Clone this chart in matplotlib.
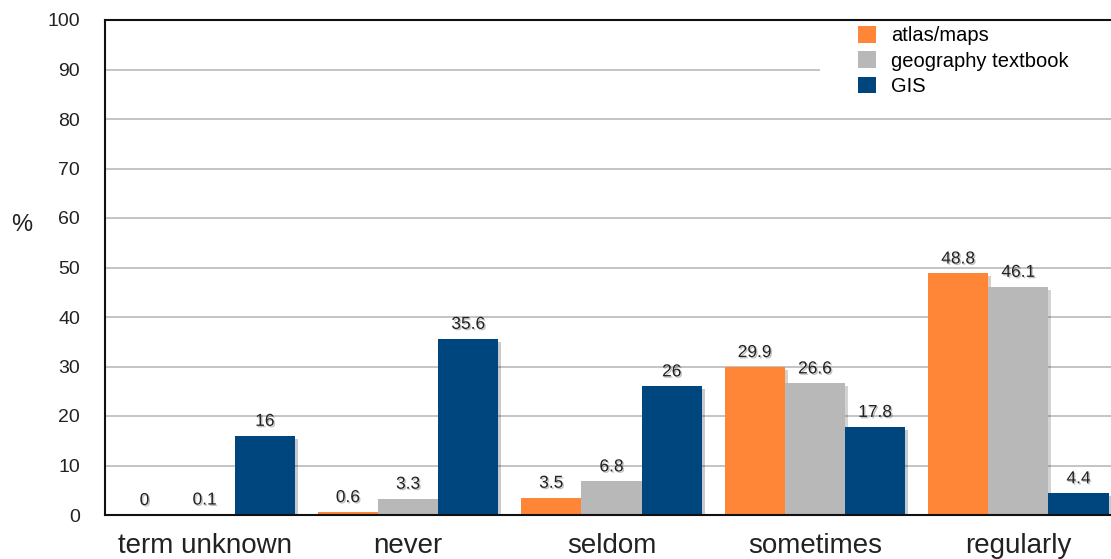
import matplotlib.pyplot as plt
import matplotlib.patheffects as pe
from matplotlib.patches import Patch, Rectangle
import numpy as np

plt.rcParams['font.family'] = ['Liberation Sans', 'DejaVu Sans']

categories = ['term unknown', 'never', 'seldom', 'sometimes', 'regularly']
atlas = [0, 0.6, 3.5, 29.9, 48.8]
textbook = [0.1, 3.3, 6.8, 26.6, 46.1]
gis = [16, 35.6, 26, 17.8, 4.4]
value_labels = [
    ['0', '0.6', '3.5', '29.9', '48.8'],
    ['0.1', '3.3', '6.8', '26.6', '46.1'],
    ['16', '35.6', '26', '17.8', '4.4'],
]
series_names = ['atlas/maps', 'geography textbook', 'GIS']
colors = ['#FF8636', '#B8B8B8', '#00467E']

fig = plt.figure(figsize=(11.11, 5.59), dpi=100)
ax = fig.add_axes([105 / 1111, 44 / 559, 1013 / 1111, 495 / 559])

x = np.arange(len(categories))
w = 0.296
shadow = [pe.SimplePatchShadow(offset=(2, -2), alpha=0.22), pe.Normal()]
txt_shadow = [pe.SimplePatchShadow(offset=(1, -1), alpha=0.25), pe.Normal()]

for i, (vals, c) in enumerate(zip([atlas, textbook, gis], colors)):
    bars = ax.bar(x + (i - 1) * w, vals, w, color=c, zorder=3,
                  path_effects=shadow)
    for b, lab in zip(bars, value_labels[i]):
        ax.annotate(lab, (b.get_x() + b.get_width() / 2, b.get_height()),
                    xytext=(0, 5), textcoords='offset points',
                    ha='center', va='bottom', fontsize=12.5, color='#222222',
                    zorder=4, path_effects=txt_shadow)

ax.set_xlim(-0.49, 4.49)
ax.set_ylim(0, 100)
ax.set_yticks(range(0, 101, 10))
ax.set_xticks(x)
ax.set_xticklabels(categories, fontsize=20, color='#222222')
ax.tick_params(axis='y', length=0, pad=18, labelsize=14, labelcolor='#222222')
ax.tick_params(axis='x', length=0, pad=13)
ax.grid(axis='y', color='#BFBFBF', linewidth=1.3, zorder=0)
ax.spines['right'].set_visible(False)
for s in ['left', 'bottom', 'top']:
    ax.spines[s].set_linewidth(1.5)
    ax.spines[s].set_color('#111111')
    ax.spines[s].set_zorder(5)

fig.text(22 / 1111, 1 - 225 / 559, '%', fontsize=17, ha='center', va='center',
         color='#222222')

# white block behind the legend hides the gridlines there
ax.add_patch(Rectangle((820 / 1111, 1 - 99 / 559), 300 / 1111, 77 / 559,
                       transform=fig.transFigure, facecolor='white',
                       edgecolor='none', zorder=2))
handles = [Patch(facecolor=c, edgecolor='none') for c in colors]
leg = ax.legend(handles, series_names, loc='upper left',
                bbox_to_anchor=(858 / 1111, 1 - 26 / 559),
                bbox_transform=fig.transFigure, frameon=False, fontsize=14.5,
                handlelength=0.9, handleheight=0.9, handletextpad=0.75,
                labelspacing=0.3, borderpad=0, borderaxespad=0)
leg.set_zorder(6)

fig.savefig('out.png', dpi=100)
